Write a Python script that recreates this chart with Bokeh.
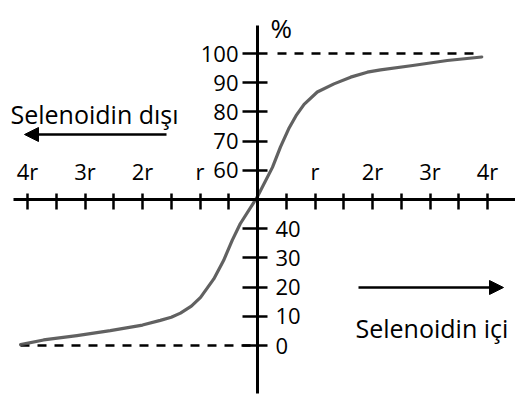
from bokeh.plotting import figure
from bokeh.models import LinearAxis, FixedTicker, Range1d, Label, Arrow, NormalHead
from bokeh.embed import file_html
from bokeh.resources import INLINE

# Magnetic field strength (% of the maximum) against distance from the solenoid axis,
# distance measured in solenoid radii r (negative = outside, positive = inside)
distance_r = [-4.12, -3.72, -3.14, -2.56, -2.0, -1.69, -1.5, -1.34, -1.15, -0.99,
              -0.76, -0.59, -0.44, -0.30, 0.0, 0.26, 0.40, 0.55, 0.68, 0.81,
              1.04, 1.33, 1.62, 1.91, 2.14, 2.7, 3.3, 3.9]
field_pct = [0.3, 1.9, 3.4, 5.1, 7.0, 8.6, 9.7, 11.1, 13.5, 16.5,
             22.8, 29.1, 36.0, 41.7, 51.0, 61.0, 68.0, 74.5, 79.0, 82.6,
             86.8, 89.6, 91.9, 93.6, 94.4, 95.9, 97.6, 98.8]

x_tick_values = [-4, -3, -2, -1, 1, 2, 3, 4]
x_tick_labels = ["4r", "3r", "2r", "r", "r", "2r", "3r", "4r"]
x_half_ticks = [-3.5, -2.5, -1.5, -0.5, 0.5, 1.5, 2.5, 3.5]
y_upper_ticks = [60, 70, 80, 90, 100]
y_lower_ticks = [0, 10, 20, 30, 40]

W, H = 515, 396
# pixel layout: origin of the axes cross and scale factors
OX, OY0 = 257.0, 345.0        # x=0 column, y=0% row
SX, SY = 57.5, 2.92           # px per r, px per %


def px2x(px):
    return (px - OX) / SX


def py2y(py):
    return (OY0 - py) / SY


p = figure(width=W, height=H, output_backend="svg", toolbar_location=None,
           x_axis_type=None, y_axis_type=None, min_border=0,
           x_range=Range1d(px2x(0), px2x(W)), y_range=Range1d(py2y(H), py2y(0)))
p.outline_line_color = None
p.background_fill_color = "white"
p.border_fill_color = "white"

FONT = "Open Sans"
TICK_FS = "22px"
CAPTION_FS = "25px"
AXIS_W = 3
TICK_W = 2.5

# horizontal axis through 50 %
xax = LinearAxis(fixed_location=50,
                 ticker=FixedTicker(ticks=x_tick_values, minor_ticks=x_half_ticks),
                 major_label_overrides=dict(zip(x_tick_values, x_tick_labels)),
                 bounds=(px2x(13), px2x(W)))
xax.axis_line_width = AXIS_W
xax.major_tick_line_width = TICK_W
xax.minor_tick_line_width = TICK_W
xax.major_tick_out = 6
xax.major_tick_in = 10
xax.minor_tick_out = 6
xax.minor_tick_in = 10
xax.major_label_standoff = 8
xax.major_label_text_font = FONT
xax.major_label_text_font_size = TICK_FS
xax.major_label_text_color = "black"
p.add_layout(xax, "above")

# vertical axis, upper half with labels on the left
yl = LinearAxis(fixed_location=0, ticker=FixedTicker(ticks=y_upper_ticks),
                bounds=(50, py2y(25)))
# vertical axis, lower half with labels on the right
yr = LinearAxis(fixed_location=0, ticker=FixedTicker(ticks=y_lower_ticks),
                bounds=(py2y(393), 50))
for ax in (yl, yr):
    ax.axis_line_width = AXIS_W
    ax.major_tick_line_width = TICK_W
    ax.major_tick_out = 15
    ax.major_tick_in = 10
    ax.major_label_text_font = FONT
    ax.major_label_text_font_size = TICK_FS
    ax.major_label_text_color = "black"
    ax.major_label_orientation = "horizontal"
yl.major_label_standoff = 4
yr.major_tick_out = 10
yr.major_tick_in = 15
yr.major_label_standoff = 8
p.add_layout(yl, "left")
p.add_layout(yr, "right")

# dashed guides at 100 % and 0 %
p.line([px2x(277), px2x(478)], [100, 100], line_color="black", line_width=2.5,
       line_dash="9 8")
p.line([px2x(20), 0], [0, 0], line_color="black", line_width=2.5, line_dash="9 8")

# field curve
p.line(distance_r, field_pct, line_color="#505050", line_width=3.2,
       line_join="round", line_cap="round", line_alpha=0.9)

# axis unit
p.add_layout(Label(x=px2x(270), y=py2y(27), text="%", text_font=FONT,
                   text_font_size="26px", text_color="black",
                   text_baseline="alphabetic"))

# region captions with direction arrows
p.add_layout(Label(x=px2x(10), y=py2y(113), text="Selenoidin dışı", text_font=FONT,
                   text_font_size=CAPTION_FS, text_color="black",
                   text_baseline="alphabetic"))
p.add_layout(Arrow(x_start=px2x(166), y_start=py2y(134), x_end=px2x(24), y_end=py2y(134),
                   line_width=2.5, line_color="black",
                   end=NormalHead(size=14, fill_color="black", line_color="black",
                                  line_width=1)))

p.add_layout(Label(x=px2x(355), y=py2y(327), text="Selenoidin içi", text_font=FONT,
                   text_font_size=CAPTION_FS, text_color="black",
                   text_baseline="alphabetic"))
p.add_layout(Arrow(x_start=px2x(358), y_start=py2y(287), x_end=px2x(503), y_end=py2y(287),
                   line_width=2.5, line_color="black",
                   end=NormalHead(size=14, fill_color="black", line_color="black",
                                  line_width=1)))

open("out.html", "w").write(file_html(p, INLINE))
